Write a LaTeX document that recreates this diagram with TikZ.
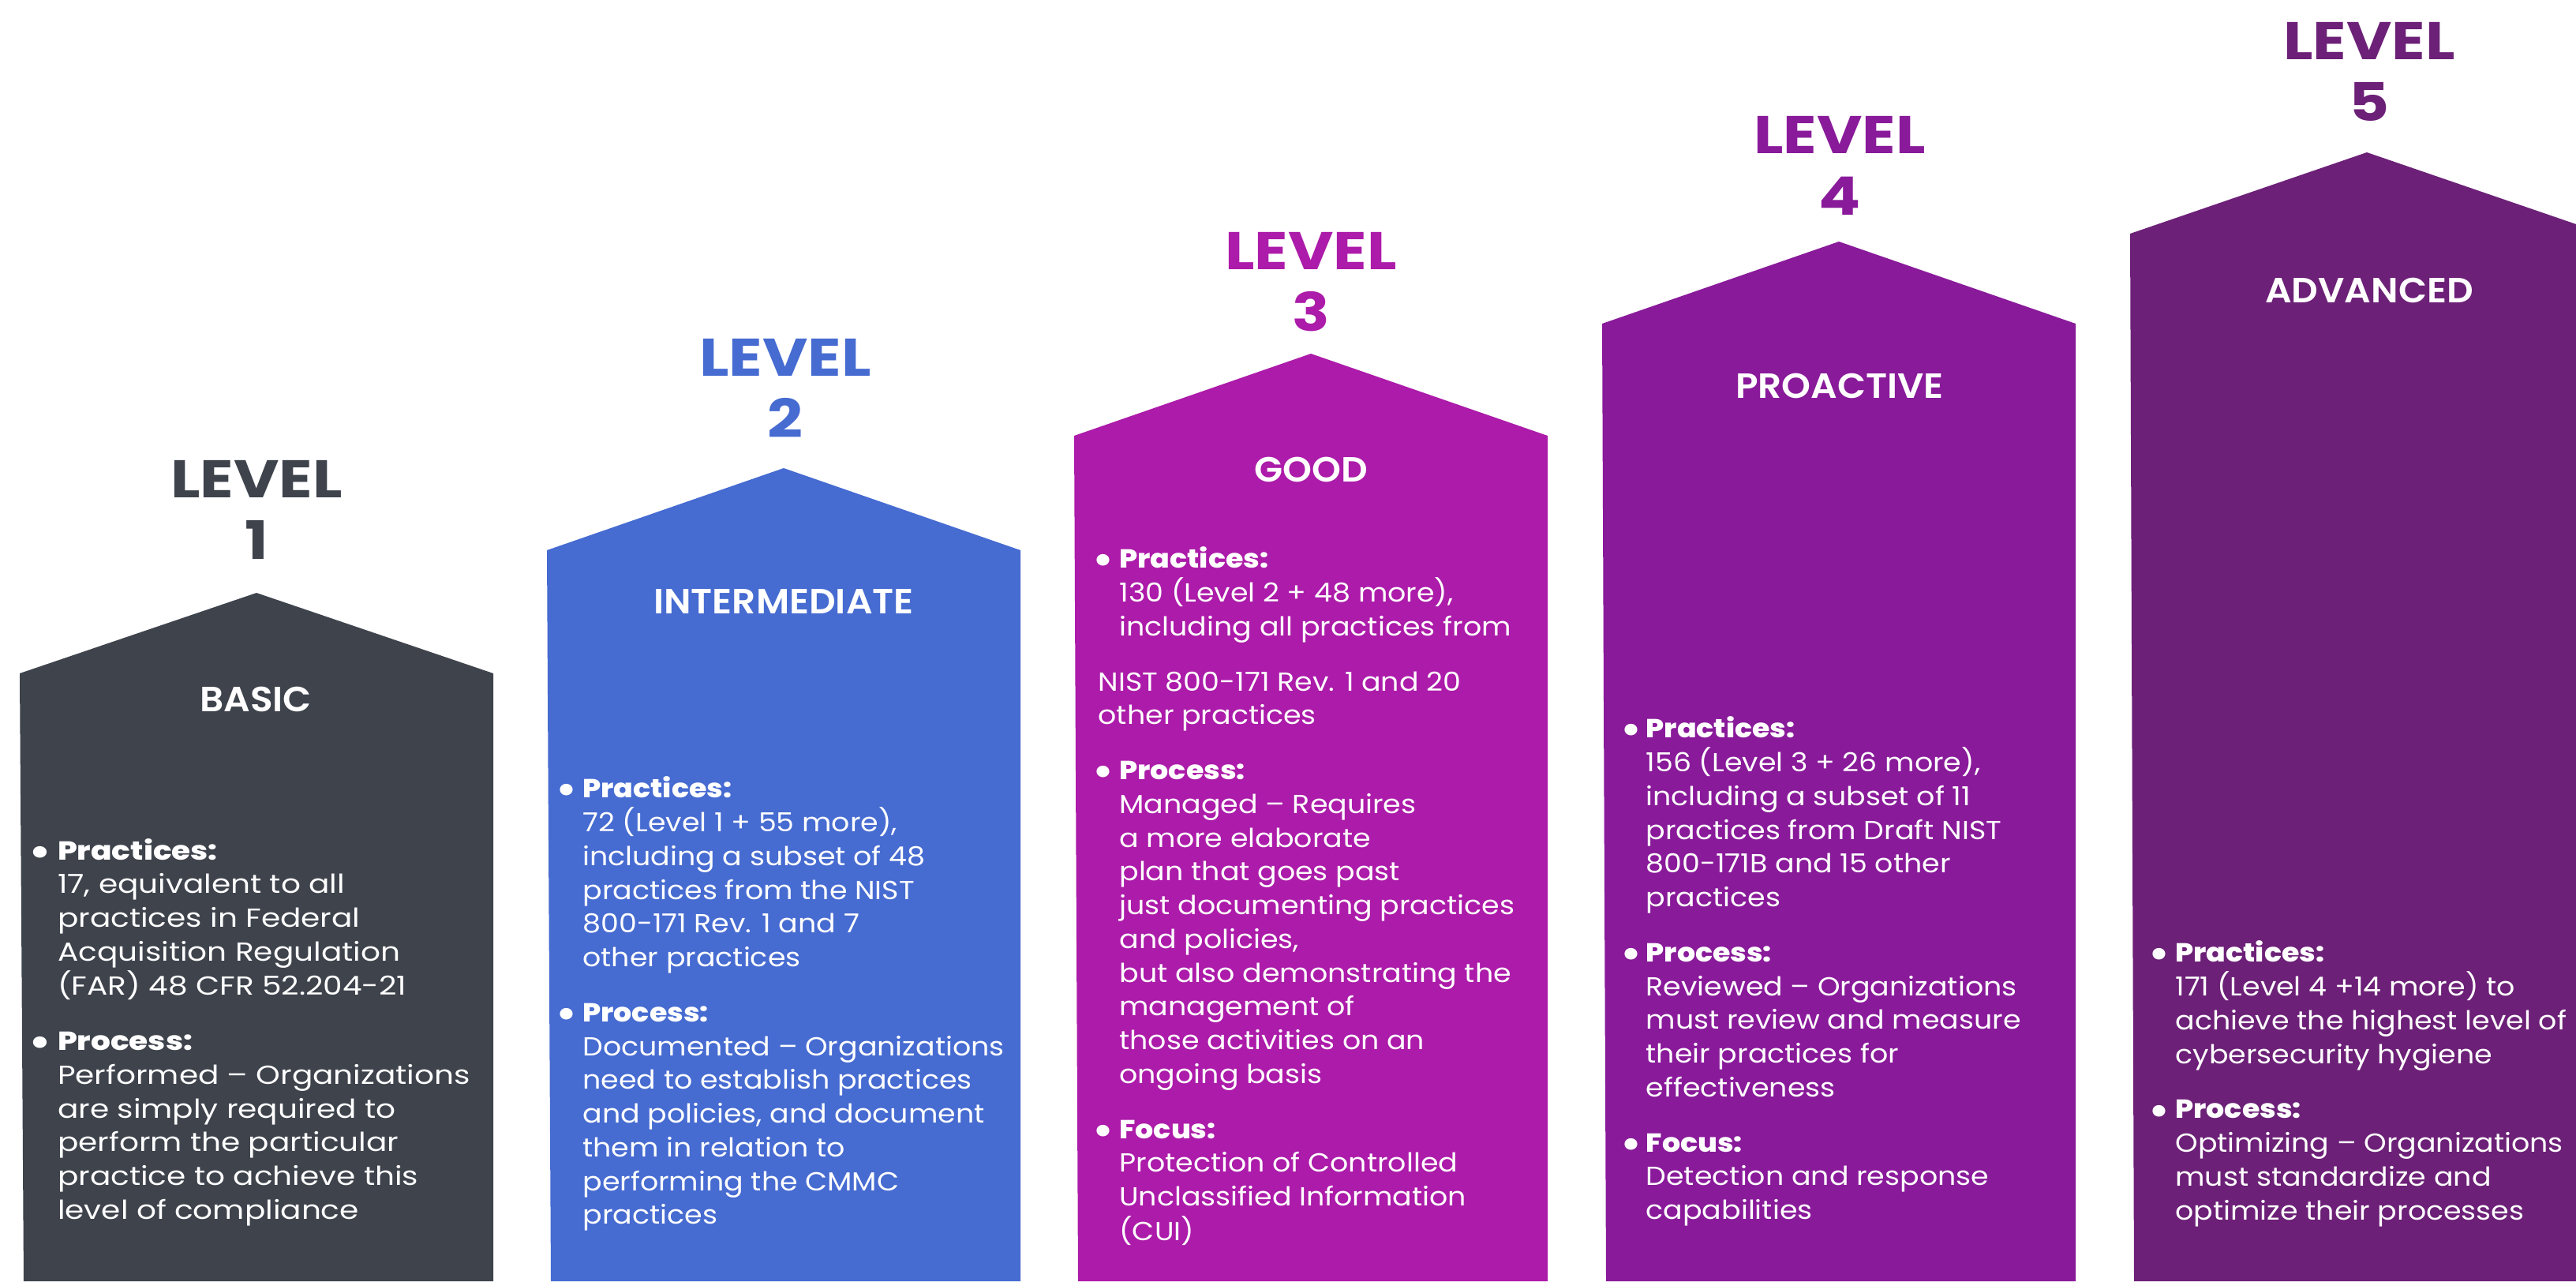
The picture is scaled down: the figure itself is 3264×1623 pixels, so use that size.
\documentclass[tikz,border=0pt]{standalone}
\usepackage{fontspec}
\setmainfont{Poppins}
% text faces, slightly widened
\newfontfamily\bodyA{Poppins}[FakeStretch=1.18]
\newfontfamily\bodyB{Poppins}[FakeStretch=1.10]
\IfFontExistsTF{Poppins ExtraBold}{%
  \newfontfamily\heavyA{Poppins ExtraBold}[FakeStretch=1.18]
  \newfontfamily\heavyB{Poppins ExtraBold}[FakeStretch=1.10]}{%
  \newcommand\heavyB{\bodyB\bfseries}\newcommand\heavyA{\bodyA\bfseries}}
\IfFontExistsTF{Poppins SemiBold}{%
  \newfontfamily\semifont{Poppins SemiBold}[FakeStretch=1.06]}{%
  \newfontfamily\semifontbase{Poppins}[FakeStretch=1.06]
  \newcommand\semifont{\semifontbase\bfseries}}
\newfontfamily\lvlfont{Poppins}[FakeStretch=1.17]

\definecolor{cgray}{HTML}{3E434C}
\definecolor{cblue}{HTML}{466BD1}
\definecolor{cmagenta}{HTML}{AC1BA9}
\definecolor{cpurple}{HTML}{891A9A}
\definecolor{cplum}{HTML}{6C2077}

\newcommand\bodyfont{\fontsize{9.4pt}{12.15pt}\selectfont}
\newcommand\curheavy{\bfseries}
\newcommand\hd[1]{{\curheavy #1}}
% round bullet, centred 1.8pt right of the column start
\newcommand\bul{\hspace*{1.8pt}\makebox[0pt]{\raisebox{-2.9pt}{\scalebox{1.8}{\textbullet}}}}
\newcommand\gap{7.7pt}

% a column: pointed roof from (left,shoulder) up to the apex and down again
\newcommand\house[4]{%
  \fill[#4] ({#1+5},1623) -- (#1,#2) -- ({#1+300},#3) -- ({#1+600},#2)
    -- ({#1+600},1623) -- cycle;}

\tikzset{
  lvl/.style={align=center, inner sep=0pt,
    font=\fontsize{19.1pt}{22pt}\selectfont\lvlfont\bfseries},
  tier/.style={text=white, inner sep=0pt,
    font=\fontsize{12.6pt}{15pt}\selectfont\semifont},
  body/.style={text=white, anchor=base west, inner sep=0pt,
    font=\bodyfont\bodyB\let\curheavy\heavyB},
  bodywide/.style={body, font=\bodyfont\bodyA\let\curheavy\heavyA}
}

\begin{document}
\begin{tikzpicture}[x=0.01cm,y=-0.01cm]
\useasboundingbox (0,0) rectangle (3264,1623);
\clip (0,0) rectangle (3264,1623);

\house{25}{853}{751}{cgray}
\house{693}{697}{593}{cblue}
\house{1361}{552}{448}{cmagenta}
\house{2030}{410}{306}{cpurple}
\house{2699}{296}{193}{cplum}

% level headings
\node[lvl, text=cgray]    (lv1) at (325,646)  {LEVEL\\1};
\node[lvl, text=cblue]    (lv2) at (995,492)  {LEVEL\\2};
\node[lvl, text=cmagenta] (lv3) at (1661,357) {LEVEL\\3};
\node[lvl, text=cpurple]  (lv4) at (2331,210) {LEVEL\\4};
\node[lvl, text=cplum]    (lv5) at (3002,91)  {LEVEL\\5};

% tier names
\node[tier] (t1) at (324,886)  {BASIC};
\node[tier] (t2) at (993,762)  {INTERMEDIATE};
\node[tier] (t3) at (1661,595) {GOOD};
\node[tier] (t4) at (2331,489) {PROACTIVE};
\node[tier] (t5) at (3002,368) {ADVANCED};

% descriptions
\node[bodywide] (d1) at (44,1089) {\begin{tabular}[t]{@{}p{8.1pt}@{}l@{}}
\bul & \hd{Practices:}\\
 & 17, equivalent to all\\
 & practices in Federal\\
 & Acquisition Regulation\\
 & (FAR) 48 CFR 52.204-21\\[\gap]
\bul & \hd{Process:}\\
 & Performed – Organizations\\
 & are simply required to\\
 & perform the particular\\
 & practice to achieve this\\
 & level of compliance
\end{tabular}};

\node[body] (d2) at (711,1010) {\begin{tabular}[t]{@{}p{7.6pt}@{}l@{}}
\bul & \hd{Practices:}\\
 & 72 (Level 1 + 55 more),\\
 & including a subset of 48\\
 & practices from the NIST\\
 & 800-171 Rev. 1 and 7\\
 & other practices\\[\gap]
\bul & \hd{Process:}\\
 & Documented – Organizations\\
 & need to establish practices\\
 & and policies, and document\\
 & them in relation to\\
 & performing the CMMC\\
 & practices
\end{tabular}};

\node[body] (d3) at (1391,719) {\begin{tabular}[t]{@{}p{7.6pt}@{}l@{}}
\bul & \hd{Practices:}\\
 & 130 (Level 2 + 48 more),\\
 & including all practices from\\[\gap]
\multicolumn{2}{@{}l@{}}{NIST 800-171 Rev. 1 and 20}\\
\multicolumn{2}{@{}l@{}}{other practices}\\[\gap]
\bul & \hd{Process:}\\
 & Managed – Requires\\
 & a more elaborate\\
 & plan that goes past\\
 & just documenting practices\\
 & and policies,\\
 & but also demonstrating the\\
 & management of\\
 & those activities on an\\
 & ongoing basis\\[\gap]
\bul & \hd{Focus:}\\
 & Protection of Controlled\\
 & Unclassified Information\\
 & (CUI)
\end{tabular}};

\node[body] (d4) at (2060,934) {\begin{tabular}[t]{@{}p{7.1pt}@{}l@{}}
\bul & \hd{Practices:}\\
 & 156 (Level 3 + 26 more),\\
 & including a subset of 11\\
 & practices from Draft NIST\\
 & 800-171B and 15 other\\
 & practices\\[\gap]
\bul & \hd{Process:}\\
 & Reviewed – Organizations\\
 & must review and measure\\
 & their practices for\\
 & effectiveness\\[\gap]
\bul & \hd{Focus:}\\
 & Detection and response\\
 & capabilities
\end{tabular}};

\node[body] (d5) at (2729,1218) {\begin{tabular}[t]{@{}p{7.6pt}@{}l@{}}
\bul & \hd{Practices:}\\
 & 171 (Level 4 +14 more) to\\
 & achieve the highest level of\\
 & cybersecurity hygiene\\[\gap]
\bul & \hd{Process:}\\
 & Optimizing – Organizations\\
 & must standardize and\\
 & optimize their processes
\end{tabular}};
\end{tikzpicture}
\end{document}
